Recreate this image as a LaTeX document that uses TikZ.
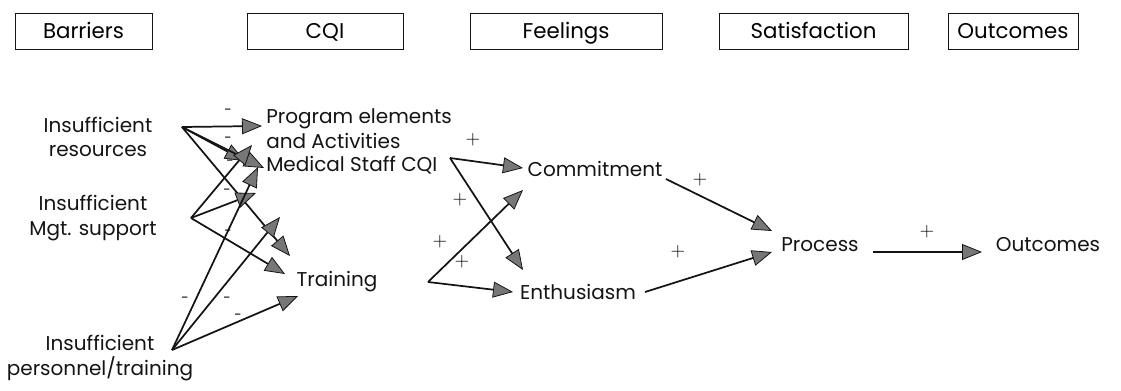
\documentclass[tikz,border=0pt]{standalone}
\usepackage{fontspec}
\setmainfont{Poppins}
\usetikzlibrary{arrows.meta}
\definecolor{ink}{HTML}{141414}
\definecolor{tipgray}{HTML}{777777}

\begin{document}
\begin{tikzpicture}[x=0.75pt,y=-0.75pt,
    hbox/.style={draw=ink, line width=0.75pt, minimum height=26.5pt,
      inner sep=0pt, text height=11pt, text depth=0pt,
      font=\fontsize{16}{18}\selectfont},
    item/.style={text=ink, inner sep=0pt, align=center,
      font=\fontsize{15}{18.5}\selectfont},
    link/.style={draw=ink, line width=1.3pt,
      -{Triangle[length=15pt,width=12pt,fill=tipgray,line width=0.6pt]}},
    minus/.style={inner sep=0pt, font=\fontsize{10}{10}\selectfont},
    plus/.style={inner sep=0pt, font=\fontsize{15}{15}\selectfont}]
  \useasboundingbox (0,0) rectangle (1121,390);

  % column headers
  \foreach \nm/\txt/\cx/\bw in {bar/Barriers/83.5/137, cqi/CQI/325/156,
      feel/Feelings/566/192, sat/Satisfaction/813.5/189, out/Outcomes/1013/130}
    \node[hbox, minimum width=\bw*0.75pt] (h\nm) at (\cx,31.5) {\txt};

  % factors
  \node[item] (res) at (98,137) {Insufficient\\resources};
  \node[item] (mgt) at (93,218) {Insufficient\\Mgt. support};
  \node[item] (pers) at (100,358) {Insufficient\\personnel/training};
  \node[item, align=left, anchor=west] (prog) at (266,129) {Program elements\\and Activities};
  \node[item, anchor=west] (med) at (266,165) {Medical Staff CQI};
  \node[item] (train) at (337,282) {Training};
  \node[item] (commit) at (595,169) {Commitment};
  \node[item] (enthus) at (578,292) {Enthusiasm};
  \node[item] (proc) at (820,245) {Process};
  \node[item] (outc) at (1048,245) {Outcomes};

  % arrow start and end points
  \coordinate (sRes) at (182,127);
  \coordinate (sMgt) at (191,218);
  \coordinate (sPers) at (172,350);
  \coordinate (sMed) at (450,158);
  \coordinate (sTrain) at (428,282);
  \coordinate (sCom) at (666,179);
  \coordinate (sEnt) at (645,292);
  \coordinate (sProc) at (873,252);
  \coordinate (r1) at (262,126);
  \coordinate (r2) at (245,161);
  \coordinate (r3) at (264,168);
  \coordinate (r4) at (290,256);
  \coordinate (g1) at (252,145);
  \coordinate (g2) at (256,193);
  \coordinate (g3) at (285,274);
  \coordinate (p1) at (258,167);
  \coordinate (p2) at (280,217);
  \coordinate (p3) at (298,296);
  \coordinate (c1) at (523,168);
  \coordinate (c2) at (523,190);
  \coordinate (e1) at (523,270);
  \coordinate (e2) at (513,292);
  \coordinate (q1) at (772,231);
  \coordinate (q2) at (772,252);
  \coordinate (o1) at (982,252);

  % barriers -> CQI
  \foreach \s/\t in {sRes/r1, sRes/r2, sRes/r3, sRes/r4, sMgt/g1, sMgt/g2,
      sMgt/g3, sPers/p1, sPers/p2, sPers/p3}
    \draw[link] (\s) -- (\t);
  % CQI -> feelings -> process -> outcomes
  \foreach \s/\t in {sMed/c1, sMed/e1, sTrain/c2, sTrain/e2, sCom/q1,
      sEnt/q2, sProc/o1}
    \draw[link] (\s) -- (\t);

  % signs
  \foreach \x/\y [count=\i] in {228/112, 228/140, 230/163, 227/192, 228/233,
      185/300, 227/300, 238/317}
    \node[minus] (m\i) at (\x,\y) {-};
  \foreach \x/\y [count=\i] in {473/140, 460/200, 440/242, 462/262, 700/180,
      678/252, 927/232}
    \node[plus] (a\i) at (\x,\y) {$+$};
\end{tikzpicture}
\end{document}
